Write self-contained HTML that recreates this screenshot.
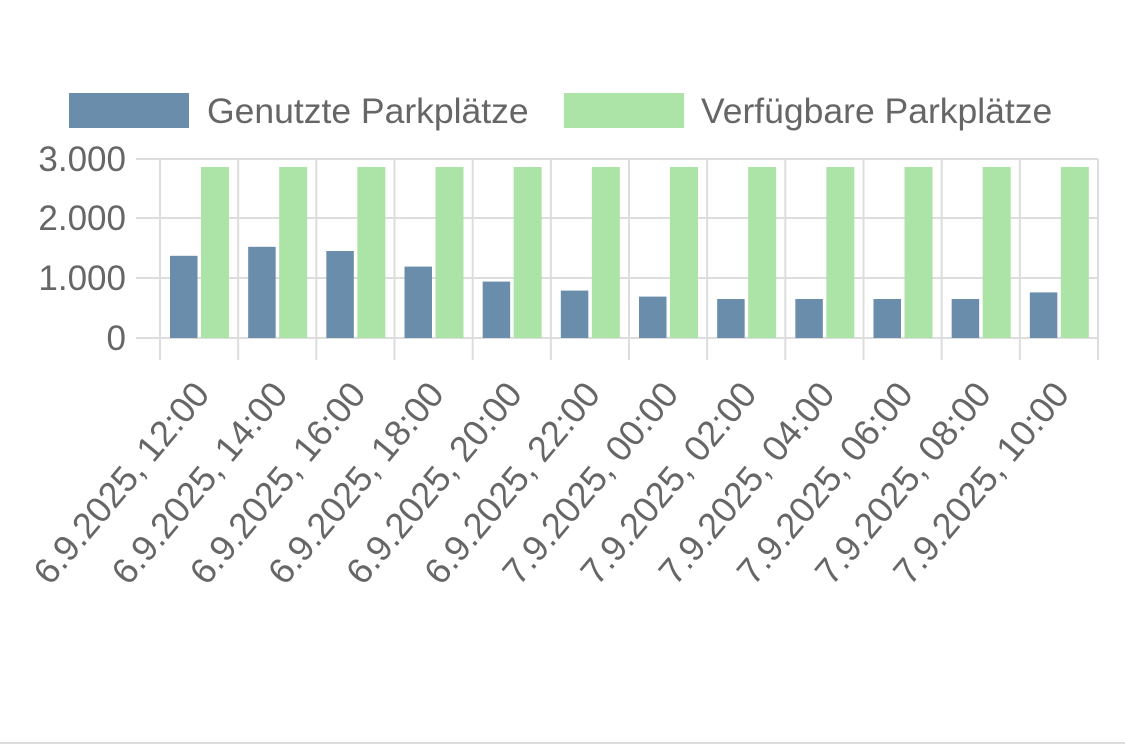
<!DOCTYPE html>
<html><head><style>body{margin:0;background:#fff;}svg{display:block}</style></head>
<body>
<svg width="1125" height="748" xmlns="http://www.w3.org/2000/svg" font-family="Liberation Sans, Arial, sans-serif" fill="#666">
<rect x="69" y="93" width="120" height="35" fill="#6a8dac"/>
<text x="207" y="123" font-size="35.5" fill="#666">Genutzte Parkplätze</text>
<rect x="564" y="93" width="120" height="35" fill="#ace3a6"/>
<text x="701" y="123" font-size="35.5" fill="#666">Verfügbare Parkplätze</text>
<g stroke="#ddd" stroke-width="2">
<line x1="136" y1="159" x2="1098" y2="159"/>
<line x1="136" y1="218" x2="1098" y2="218"/>
<line x1="136" y1="278" x2="1098" y2="278"/>
<line x1="136" y1="338" x2="1098" y2="338"/>
</g>
<g stroke="#ddd" stroke-width="2" id="v"></g>
<g font-size="35" text-anchor="end">
<text x="126" y="171">3.000</text>
<text x="126" y="230">2.000</text>
<text x="126" y="290">1.000</text>
<text x="126" y="350">0</text>
</g>
<g id="bars"></g>
<g id="labels" font-size="36" text-anchor="end"></g>
<line x1="0" y1="743" x2="1125" y2="743" stroke="#ddd" stroke-width="2"/>
<script>
var ns="http://www.w3.org/2000/svg";
var blue=[1370,1520,1450,1190,940,790,690,650,650,650,650,760];
var labs=["6.9.2025, 12:00","6.9.2025, 14:00","6.9.2025, 16:00","6.9.2025, 18:00","6.9.2025, 20:00","6.9.2025, 22:00","7.9.2025, 00:00","7.9.2025, 02:00","7.9.2025, 04:00","7.9.2025, 06:00","7.9.2025, 08:00","7.9.2025, 10:00"];
var w=938/12,v=document.getElementById('v'),b=document.getElementById('bars'),l=document.getElementById('labels');
function el(t,a,p,txt){var e=document.createElementNS(ns,t);for(var k in a)e.setAttribute(k,a[k]);if(txt)e.textContent=txt;p.appendChild(e);}
for(var i=0;i<=12;i++){var x=160+i*w;el('line',{x1:x,y1:159,x2:x,y2:360},v);}
for(var i=0;i<12;i++){var x0=160+i*w;var hb=blue[i]*0.06,hg=2850*0.06;
el('rect',{x:x0+10,y:338-hb,width:27.5,height:hb,fill:'#6a8dac'},b);
el('rect',{x:x0+41,y:338-hg,width:28,height:hg,fill:'#ace3a6'},b);
var cx=x0+w/2+12,cy=395;el('text',{x:cx,y:cy,transform:'rotate(-50 '+cx+' '+cy+')'},l,labs[i]);}
</script>
</svg>
</body></html>
